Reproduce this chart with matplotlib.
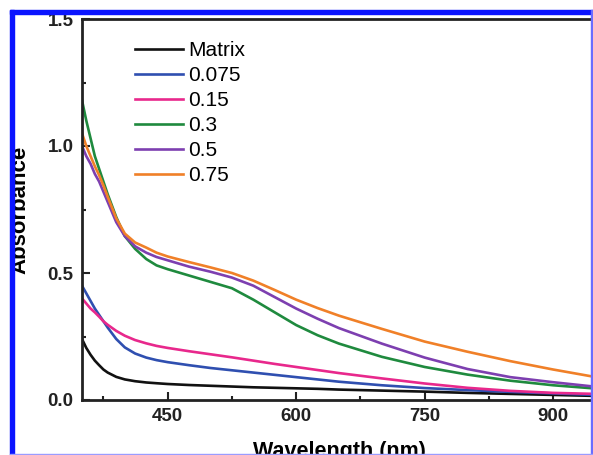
import numpy as np
import matplotlib
matplotlib.use("Agg")
import matplotlib.pyplot as plt
from matplotlib.patches import Rectangle
from matplotlib.ticker import MultipleLocator

plt.rcParams["font.family"] = ["Liberation Sans", "DejaVu Sans"]

# data
wavelength = [350, 355, 360, 365, 370, 375, 380, 390, 400, 412, 425, 437, 450,
              475, 500, 525, 550, 575, 600, 625, 650, 700, 750, 800, 850, 900, 950]

matrix = [0.24, 0.205, 0.178, 0.155, 0.137, 0.12, 0.108, 0.091, 0.081, 0.074,
          0.069, 0.066, 0.063, 0.059, 0.056, 0.053, 0.05, 0.048, 0.046, 0.044,
          0.041, 0.037, 0.033, 0.028, 0.024, 0.02, 0.016]
c_0075 = [0.45, 0.42, 0.39, 0.36, 0.335, 0.31, 0.285, 0.24, 0.207, 0.183,
          0.167, 0.157, 0.149, 0.137, 0.126, 0.117, 0.108, 0.099, 0.09, 0.081,
          0.072, 0.058, 0.047, 0.039, 0.032, 0.026, 0.02]
c_015 = [0.40, 0.38, 0.36, 0.345, 0.328, 0.31, 0.296, 0.272, 0.253, 0.236,
         0.223, 0.213, 0.205, 0.192, 0.18, 0.168, 0.155, 0.142, 0.13, 0.118,
         0.106, 0.085, 0.065, 0.048, 0.036, 0.028, 0.024]
c_03 = [1.18, 1.10, 1.03, 0.96, 0.91, 0.86, 0.81, 0.72, 0.645, 0.595,
        0.555, 0.53, 0.515, 0.49, 0.465, 0.44, 0.395, 0.345, 0.295, 0.255,
        0.222, 0.17, 0.13, 0.10, 0.076, 0.058, 0.045]
c_05 = [1.00, 0.96, 0.93, 0.89, 0.86, 0.82, 0.78, 0.70, 0.645, 0.605,
        0.58, 0.563, 0.55, 0.525, 0.505, 0.482, 0.45, 0.405, 0.36, 0.32,
        0.283, 0.222, 0.167, 0.122, 0.09, 0.07, 0.052]
c_075 = [1.05, 1.00, 0.96, 0.92, 0.885, 0.845, 0.80, 0.715, 0.655, 0.62,
         0.60, 0.58, 0.565, 0.543, 0.522, 0.50, 0.47, 0.433, 0.395, 0.362,
         0.332, 0.28, 0.23, 0.19, 0.153, 0.12, 0.09]

labels = ["Matrix", "0.075", "0.15", "0.3", "0.5", "0.75"]
series = [matrix, c_0075, c_015, c_03, c_05, c_075]
colors = ["#111111", "#2f4fb0", "#e8288c", "#1f8a3e", "#7d3fb0", "#f08028"]

W, H = 593, 455
fig = plt.figure(figsize=(W / 100, H / 100), dpi=100)
ax = fig.add_axes([82 / W, (H - 400) / H, 514 / W, 381 / H])

for ys, c, lab in zip(series, colors, labels):
    ax.plot(wavelength, ys, color=c, lw=1.9, label=lab)

ax.set_xlim(350, 950)
ax.set_ylim(0, 1.5)
ax.xaxis.set_minor_locator(MultipleLocator(75))
ax.yaxis.set_major_locator(MultipleLocator(0.5))
ax.yaxis.set_minor_locator(MultipleLocator(0.25))
ax.set_xticks([450, 600, 750, 900])
ax.yaxis.set_major_formatter(plt.FuncFormatter(lambda v, p: f"{v:.1f}"))

ax.tick_params(which="both", direction="in", width=1.5, color="#222222",
               top=False, right=False)
ax.tick_params(which="major", length=6, labelsize=13.5, pad=6)
ax.tick_params(which="minor", length=3)
for t in ax.get_xticklabels() + ax.get_yticklabels():
    t.set_fontweight("bold")
    t.set_color("#222222")
for s in ax.spines.values():
    s.set_linewidth(2)
    s.set_color("#222222")

ax.set_xlabel("Wavelength (nm)", fontsize=15.5, fontweight="bold", labelpad=11)
ax.set_ylabel("Absorbance", fontsize=16, fontweight="bold")
ax.yaxis.set_label_coords(-52 / 514, 0.5)

ax.legend(loc="upper left", bbox_to_anchor=(53 / 514, (400 - 41) / 381),
          frameon=False, fontsize=15, handlelength=2.3, handletextpad=0.25,
          labelspacing=0.29, borderpad=0, borderaxespad=0)

# blue frame around the picture, with white outside it
white = "white"
fig.patches.append(Rectangle((0, 1 - 10 / H), 1, 10 / H, transform=fig.transFigure,
                             color=white, zorder=10))
fig.patches.append(Rectangle((0, 0), 10 / W, 1, transform=fig.transFigure,
                             color=white, zorder=10))
fig.patches.append(Rectangle((10 / W, 1 - 14 / H), 1, 4 / H, transform=fig.transFigure,
                             color="#0a14ff", zorder=11))
fig.patches.append(Rectangle((10 / W, 0), 3.5 / W, 1 - 10 / H, transform=fig.transFigure,
                             color="#0a14ff", zorder=11))
fig.patches.append(Rectangle((591 / W, 0), 2 / W, 1 - 10 / H, transform=fig.transFigure,
                             color="#6a6cff", zorder=11))
fig.patches.append(Rectangle((10 / W, 0), 1, 1.5 / H, transform=fig.transFigure,
                             color="#9a9cff", zorder=11))

fig.savefig("out.png", dpi=100)
